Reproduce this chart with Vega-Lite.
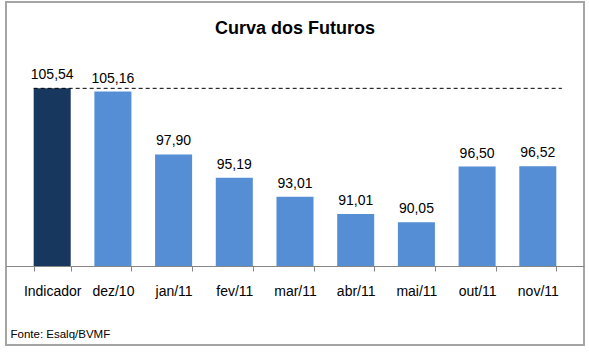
{
  "$schema": "https://vega.github.io/schema/vega-lite/v6.json",
  "width": 578,
  "height": 343,
  "autosize": {"type": "none"},
  "padding": {"left": 6, "top": 2, "right": 5, "bottom": 7},
  "background": "white",
  "config": {
    "view": {"stroke": "#a5a5a5", "strokeWidth": 2},
    "font": "Liberation Sans",
    "locale": {"number": {"decimal": ",", "thousands": ".", "grouping": [3], "currency": ["R$", ""]}}
  },
  "title": {
    "text": "Curva dos Futuros",
    "fontSize": 18,
    "fontWeight": "bold",
    "font": "Liberation Sans",
    "color": "black",
    "anchor": "middle",
    "frame": "group",
    "offset": -50,
    "baseline": "alphabetic"
  },
  "data": {
    "values": [
      {"cat": "Indicador", "value": 105.54, "type": "ind"},
      {"cat": "dez/10", "value": 105.16, "type": "fut"},
      {"cat": "jan/11", "value": 97.90, "type": "fut"},
      {"cat": "fev/11", "value": 95.19, "type": "fut"},
      {"cat": "mar/11", "value": 93.01, "type": "fut"},
      {"cat": "abr/11", "value": 91.01, "type": "fut"},
      {"cat": "mai/11", "value": 90.05, "type": "fut"},
      {"cat": "out/11", "value": 96.50, "type": "fut"},
      {"cat": "nov/11", "value": 96.52, "type": "fut"}
    ]
  },
  "encoding": {
    "x": {
      "field": "cat",
      "type": "nominal",
      "sort": null,
      "scale": {"paddingInner": 0.39, "paddingOuter": 0.456},
      "axis": {
        "title": "Fonte: Esalq/BVMF",
        "titleX": 4,
        "titleY": 68,
        "titleAnchor": "start",
        "titleAlign": "left",
        "titleBaseline": "middle",
        "titleFontSize": 11.5,
        "titleFontWeight": "normal",
        "titleColor": "black",
        "offset": -79,
        "tickBand": "extent",
        "domainColor": "#868686",
        "tickColor": "#868686",
        "tickSize": 5,
        "labelFontSize": 14,
        "labelColor": "black",
        "labelPadding": 13,
        "labelAngle": 0,
        "grid": false
      }
    }
  },
  "layer": [
    {
      "mark": {"type": "bar"},
      "encoding": {
        "y": {"field": "value", "type": "quantitative", "scale": {"domain": [75.87, 115.52], "zero": false, "nice": false}, "axis": null},
        "y2": {"datum": 85},
        "color": {"field": "type", "type": "nominal", "scale": {"domain": ["ind", "fut"], "range": ["#17375E", "#558ED5"]}, "legend": null}
      }
    },
    {
      "mark": {"type": "text", "baseline": "bottom", "dy": -6, "fontSize": 14, "color": "black"},
      "encoding": {
        "y": {"field": "value", "type": "quantitative"},
        "text": {"field": "value", "type": "quantitative", "format": ".2f"}
      }
    },
    {
      "data": {"values": [{"ref": 105.54}]},
      "mark": {"type": "rule", "strokeDash": [4, 3], "color": "black", "strokeWidth": 1},
      "encoding": {
        "x": {"datum": "Indicador", "bandPosition": 0},
        "x2": {"datum": "nov/11", "bandPosition": 1.15},
        "y": {"field": "ref", "type": "quantitative"}
      }
    }
  ]
}
